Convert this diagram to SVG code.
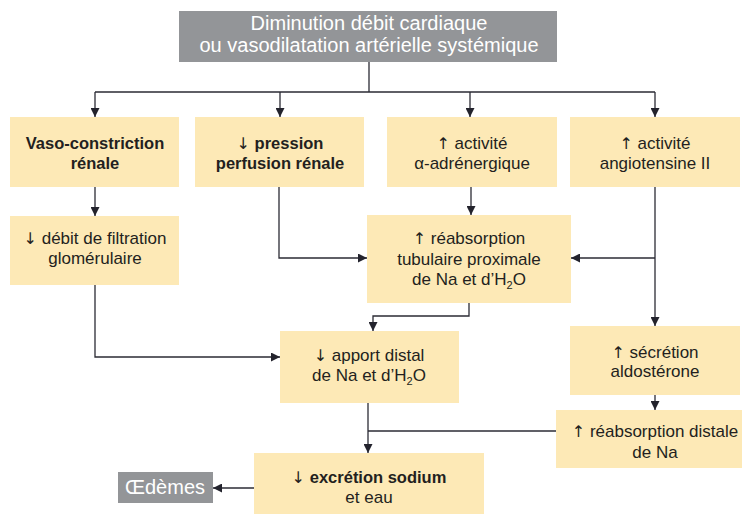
<svg xmlns="http://www.w3.org/2000/svg" width="742" height="515" viewBox="0 0 742 515">
<defs>
<marker id="ah" viewBox="0 0 10 10" refX="10" refY="5" markerWidth="9" markerHeight="9" markerUnits="userSpaceOnUse" orient="auto">
<path d="M0,0 L10,5 L0,10 z" fill="#23232d"/>
</marker>
<style>
.box{fill:#FDE9B6}
.gbox{fill:#939598}
.t{font-family:"Liberation Sans",Arial,sans-serif;font-size:17px;fill:#231f20;text-anchor:middle}
.b{font-weight:bold;font-size:16.5px}
.a{font-family:"DejaVu Sans",sans-serif;font-size:16px;font-weight:normal}
.w{font-family:"Liberation Sans",Arial,sans-serif;font-size:20px;fill:#ffffff;text-anchor:middle}
.c{fill:none;stroke:#2b2b35;stroke-width:1.3}
.sub{font-size:11px}
</style>
</defs>
<rect width="742" height="515" fill="#ffffff"/>
<g id="connectors">
<path class="c" d="M369,62 V92 M95,92 H655"/>
<path class="c" d="M95,92 V117" marker-end="url(#ah)"/>
<path class="c" d="M280,92 V117" marker-end="url(#ah)"/>
<path class="c" d="M470,92 V117" marker-end="url(#ah)"/>
<path class="c" d="M655,92 V117" marker-end="url(#ah)"/>
<path class="c" d="M95,187 V216" marker-end="url(#ah)"/>
<path class="c" d="M279,187 V258 H367" marker-end="url(#ah)"/>
<path class="c" d="M471,187 V215" marker-end="url(#ah)"/>
<path class="c" d="M655,187 V326" marker-end="url(#ah)"/>
<path class="c" d="M655,258 H571" marker-end="url(#ah)"/>
<path class="c" d="M95,285 V357 H280" marker-end="url(#ah)"/>
<path class="c" d="M469,303 V316 H373 V331" marker-end="url(#ah)"/>
<path class="c" d="M655,395 V410" marker-end="url(#ah)"/>
<path class="c" d="M368,403 V453" marker-end="url(#ah)"/>
<path class="c" d="M368,431 H556"/>
<path class="c" d="M254,488 H213" marker-end="url(#ah)"/>
</g>
<g id="top">
<rect class="gbox" x="179" y="11" width="378" height="51"/>
<text class="w" x="369" y="30">Diminution débit cardiaque</text>
<text class="w" x="369" y="52">ou vasodilatation artérielle systémique</text>
</g>
<g id="vasoconstriction">
<rect class="box" x="10" y="117" width="169" height="70"/>
<text class="t b" x="95" y="149">Vaso-constriction</text>
<text class="t b" x="95" y="169">rénale</text>
</g>
<g id="pression">
<rect class="box" x="195" y="117" width="169" height="70"/>
<text class="t b" x="280" y="149"><tspan class="a">↓</tspan> pression</text>
<text class="t b" x="280" y="169">perfusion rénale</text>
</g>
<g id="adrenergique">
<rect class="box" x="387" y="117" width="170" height="70"/>
<text class="t" x="472" y="149"><tspan class="a">↑</tspan> activité</text>
<text class="t" x="472" y="169">α-adrénergique</text>
</g>
<g id="angiotensine">
<rect class="box" x="570" y="117" width="170" height="70"/>
<text class="t" x="655" y="149"><tspan class="a">↑</tspan> activité</text>
<text class="t" x="655" y="169">angiotensine II</text>
</g>
<g id="dfg">
<rect class="box" x="10" y="216" width="169" height="69"/>
<text class="t" x="95" y="244"><tspan class="a">↓</tspan> débit de filtration</text>
<text class="t" x="95" y="264">glomérulaire</text>
</g>
<g id="reabsorption-proximale">
<rect class="box" x="367" y="215" width="204" height="88"/>
<text class="t" x="469" y="244"><tspan class="a">↑</tspan> réabsorption</text>
<text class="t" x="469" y="265">tubulaire proximale</text>
<text class="t" x="469" y="285">de Na et d’H<tspan class="sub" dy="4">2</tspan><tspan dy="-4">O</tspan></text>
</g>
<g id="apport-distal">
<rect class="box" x="280" y="331" width="179" height="72"/>
<text class="t" x="369" y="361"><tspan class="a">↓</tspan> apport distal</text>
<text class="t" x="369" y="381">de Na et d’H<tspan class="sub" dy="4">2</tspan><tspan dy="-4">O</tspan></text>
</g>
<g id="aldosterone">
<rect class="box" x="570" y="326" width="170" height="69"/>
<text class="t" x="655" y="358"><tspan class="a">↑</tspan>  sécrétion</text>
<text class="t" x="655" y="377">aldostérone</text>
</g>
<g id="reabsorption-distale">
<rect class="box" x="556" y="410" width="190" height="58"/>
<text class="t" x="655" y="437"><tspan class="a">↑</tspan>  réabsorption distale</text>
<text class="t" x="655" y="458">de Na</text>
</g>
<g id="excretion">
<rect class="box" x="254" y="453" width="230" height="61"/>
<text class="t" x="369" y="483"><tspan class="a">↓</tspan> <tspan class="b">excrétion sodium</tspan></text>
<text class="t" x="369" y="503">et eau</text>
</g>
<g id="oedemes">
<rect class="gbox" x="118" y="472" width="95" height="31"/>
<text class="w" x="165" y="494">Œdèmes</text>
</g>
</svg>
